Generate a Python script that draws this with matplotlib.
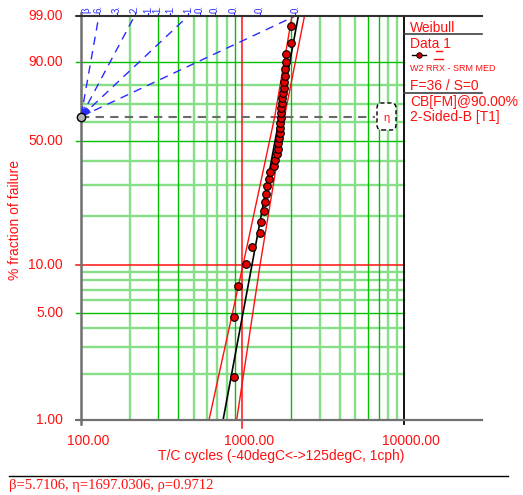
import numpy as np
import matplotlib
matplotlib.use('Agg')
import matplotlib.pyplot as plt
from matplotlib.transforms import blended_transform_factory, IdentityTransform
from matplotlib.patches import FancyBboxPatch
from matplotlib.lines import Line2D

plt.rcParams['font.family'] = ['Liberation Sans', 'DejaVu Sans']

# ---------------- data ----------------
cycles = [890, 892, 934, 1055, 1140, 1289, 1296, 1362, 1370, 1398, 1412, 1453,
          1480, 1567, 1590, 1624, 1652, 1667, 1683, 1695, 1707, 1714, 1724, 1731,
          1739, 1749, 1764, 1774, 1795, 1815, 1833, 1841, 1851, 1859, 1988, 1997]
unreliability_pct = [1.92, 4.67, 7.42, 10.16, 12.91, 15.66, 18.41, 21.15, 23.90,
                     26.65, 29.40, 32.14, 34.89, 37.64, 40.38, 43.13, 45.88, 48.63,
                     51.37, 54.12, 56.87, 59.62, 62.36, 65.11, 67.86, 70.60, 73.35,
                     76.10, 78.85, 81.59, 84.34, 87.09, 89.84, 92.58, 95.33, 98.08]
fit_pct = [1, 99]
fit_t = [758, 2217]
lower_pct = [1, 10, 63.2, 99]
lower_t = [620, 1007, 1583, 2025]
upper_pct = [1, 10, 63.2, 99]
upper_t = [920, 1284, 1820, 2420]
beta_ticks = [6, 3, 2, 1.6, 1.4, 1.2, 1.0, 0.9, 0.8, 0.7, 0.6, 0.5]
beta_tick_labels = ['6.', '3.', '2.', '1.', '1.', '1.', '1.', '0.', '0.', '0.', '0.', '0.']
beta_lines = [6, 2, 1, 0.5]
y_tick_vals = [99, 90, 50, 10, 5, 1]
y_tick_labels = ['99.00', '90.00', '50.00', '10.00', '5.00', '1.00']
x_tick_vals = [100, 1000, 10000]
x_tick_labels = ['100.00', '1000.00', '10000.00']
grid_v_light = [200, 500, 600, 700, 800, 3000, 4000, 5000, 8000, 9000]
grid_v_dark = [300, 400, 900, 2000, 6000, 7000]
grid_h_light = [2, 3, 4, 6, 7, 8, 9, 20, 30, 40, 60, 70, 80]
grid_h_dark = [5, 50, 90]

RED = '#ff1010'
DKG = '#00c000'
LTG = '#86de86'
BLUE = '#2a2aff'


def W(p):
    p = np.asarray(p, dtype=float)
    return np.log(-np.log(1 - p / 100.0))


FW, FH = 523, 495
fig = plt.figure(figsize=(FW / 100, FH / 100), dpi=100)
L, R, T, B = 81, 482, 16, 420
ax = fig.add_axes([L / FW, 1 - B / FH, (R - L) / FW, (B - T) / FH])
ax.set_xscale('log')
ax.set_xlim(100, 10 ** (2 + (R - L) / 161.5))
ax.set_ylim(W(1), W(99))
for s in ax.spines.values():
    s.set_visible(False)
ax.tick_params(which='both', length=0, labelbottom=False, labelleft=False)
ax.patch.set_alpha(0)

ymin, ymax = float(W(1)), float(W(99))
bx = blended_transform_factory(ax.transData, ax.transAxes)
by = blended_transform_factory(ax.transAxes, ax.transData)
tick_ax = 4 / (B - T)

# grid
for t in grid_v_light:
    ax.plot([t, t], [ymin, ymax], color=LTG, lw=1.7, zorder=1)
for p in grid_h_light:
    ax.plot([100, 10000], [W(p), W(p)], color=LTG, lw=1.7, zorder=1)
for t in grid_v_dark:
    ax.plot([t, t], [ymin, ymax], color=DKG, lw=1.0, zorder=2)
for p in grid_h_dark:
    ax.plot([100, 10000], [W(p), W(p)], color=DKG, lw=1.0, zorder=2)
    ax.plot([-0.012, 0], [W(p), W(p)], color=DKG, lw=1.0, transform=by, clip_on=False)
ax.plot([100, 10000], [W(10), W(10)], color=RED, lw=1.1, zorder=3)
ax.plot([-0.012, 0], [W(10), W(10)], color=RED, lw=1.1, transform=by, clip_on=False)
for p in [99, 1]:
    ax.plot([-0.012, 0], [W(p), W(p)], color='#303030', lw=1.2, transform=by, clip_on=False)

# vertical major lines with ticks below axis
ax.plot([1000, 1000], [-2 * tick_ax, 1.0], color=RED, lw=1.1, transform=bx, clip_on=False, zorder=3)
ax.plot([10000, 10000], [-tick_ax, 1.0], color='black', lw=1.3, transform=bx, clip_on=False, zorder=3)
ax.plot([100, 100], [-tick_ax, 1.0 + 3 / (B - T)], color='#707070', lw=1.8, transform=bx, clip_on=False, zorder=3)

# frame lines (top and bottom, extended under legend panel)
fig.add_artist(Line2D([77, 482], [FH - 16, FH - 16], color='#303030', lw=1.5, transform=IdentityTransform()))
fig.add_artist(Line2D([77, 482], [FH - 420, FH - 420], color='#707070', lw=1.6, transform=IdentityTransform()))

# beta scale
pivot_t = 100
for b in beta_lines:
    t_top = pivot_t * np.exp(ymax / b)
    ax.plot([pivot_t, t_top], [0, ymax], color=BLUE, lw=1.0, dashes=(6, 4.5), zorder=4, clip_on=False)
for b, lab in zip(beta_ticks, beta_tick_labels):
    t_top = pivot_t * np.exp(ymax / b)
    ax.plot([t_top, t_top], [1.0, 1.0 + 3 / (B - T)], color=BLUE, lw=0.8, transform=bx, clip_on=False)
    ax.text(t_top, 1.0 + 3.5 / (B - T), lab, rotation=90, color=BLUE, fontsize=7,
            ha='center', va='bottom', transform=bx, clip_on=False)
    th = np.arctan(0.94 * b)
    r0, r1 = 3, 10
    t0 = pivot_t * 10 ** (r0 * np.cos(th) / 161.5)
    t1 = pivot_t * 10 ** (r1 * np.cos(th) / 161.5)
    w0 = r0 * np.sin(th) * (ymax - ymin) / (B - T)
    w1 = r1 * np.sin(th) * (ymax - ymin) / (B - T)
    ax.plot([t0, t1], [w0, w1], color=BLUE, lw=0.8, zorder=4)
ax.text(108, 1.0 + 3.5 / (B - T), '\u03b2', rotation=90, color=BLUE, fontsize=7,
        ha='center', va='bottom', transform=bx, clip_on=False)

# eta line and box
eta_end = 10 ** (2 + (375 - L) / 161.5)
ax.plot([100, eta_end], [0, 0], color='#6a6a6a', lw=1.5, dashes=(4, 3), zorder=4)
box = FancyBboxPatch((377, FH - 130), 19, 27, boxstyle='round,pad=0,rounding_size=5',
                     transform=IdentityTransform(), facecolor='white', edgecolor='black',
                     lw=1.0, linestyle=(0, (3, 2)), zorder=6)
fig.add_artist(box)
fig.text(387 / FW, 1 - 118 / FH, '\u03b7', color=RED, fontsize=8, ha='center', va='center', zorder=7)

# pivot
ax.plot([pivot_t], [0], 'o', ms=6, mfc='#b4b4b4', mec='black', mew=1.0, clip_on=False, zorder=10)

# fit and bounds
ax.plot(lower_t, W(lower_pct), color=RED, lw=1.0, zorder=6)
ax.plot(upper_t, W(upper_pct), color=RED, lw=1.0, zorder=6)
ax.plot(fit_t, W(fit_pct), color='black', lw=1.2, zorder=7)

# data points
ax.plot(cycles, W(unreliability_pct), 'o', ms=5.5, mfc='#e00000', mec='black', mew=0.8,
        zorder=8, clip_on=False)

# tick labels
for p, lab in zip(y_tick_vals, y_tick_labels):
    ax.text(-0.045, W(p), lab, color=RED, fontsize=10, ha='right', va='center', transform=by)
for t, lab in zip(x_tick_vals, x_tick_labels):
    xpx = L + 161.5 * np.log10(t / 100) + 7
    fig.text(xpx / FW, 1 - 445 / FH, lab, color=RED, fontsize=10, ha='center', va='baseline')

fig.text(281 / FW, 1 - 460 / FH, 'T/C cycles (-40degC<->125degC, 1cph)', color=RED,
         fontsize=10, ha='center', va='baseline')
fig.text(15 / FW, 1 - 220 / FH, '% fraction of failure', color=RED, fontsize=10,
         rotation=90, ha='center', va='center')

# legend panel
LX = 410
fig.text(LX / FW, 1 - 31.7 / FH, 'Weibull', color=RED, fontsize=10, va='baseline')
fig.add_artist(Line2D([404, 482], [FH - 34, FH - 34], color='#404040', lw=1.2, transform=IdentityTransform()))
fig.text(LX / FW, 1 - 48.3 / FH, 'Data 1', color=RED, fontsize=10, va='baseline')
fig.add_artist(Line2D([412, 426], [FH - 55, FH - 55], color='black', lw=1.0, transform=IdentityTransform()))
fig.add_artist(Line2D([419], [FH - 55], marker='o', ms=4, mfc='#c00000', mec='black', mew=0.6,
                      transform=IdentityTransform()))
fig.add_artist(Line2D([436, 442], [FH - 51, FH - 51], color=RED, lw=1.0, transform=IdentityTransform()))
fig.add_artist(Line2D([434, 443], [FH - 59, FH - 59], color=RED, lw=1.0, transform=IdentityTransform()))
fig.text(LX / FW, 1 - 70.7 / FH, 'W2 RRX - SRM MED', color=RED, fontsize=6.5, va='baseline')
fig.text(LX / FW, 1 - 90 / FH, 'F=36 / S=0', color=RED, fontsize=10, va='baseline')
fig.add_artist(Line2D([404, 482], [FH - 93, FH - 93], color='#404040', lw=1.2, transform=IdentityTransform()))
fig.text(LX / FW, 1 - 106 / FH, 'CB[FM]@90.00%', color=RED, fontsize=10, va='baseline')
fig.text(LX / FW, 1 - 120.7 / FH, '2-Sided-B [T1]', color=RED, fontsize=10, va='baseline')

# bottom summary
fig.add_artist(Line2D([9, 508], [FH - 476, FH - 476], color='black', lw=1.0, transform=IdentityTransform()))
fig.text(9 / FW, 1 - 489 / FH, '\u03b2=5.7106, \u03b7=1697.0306, \u03c1=0.9712', color=RED,
         fontsize=10.5, family=['Liberation Serif', 'DejaVu Serif'], va='baseline')

fig.savefig('out.png', dpi=100, facecolor='white')
